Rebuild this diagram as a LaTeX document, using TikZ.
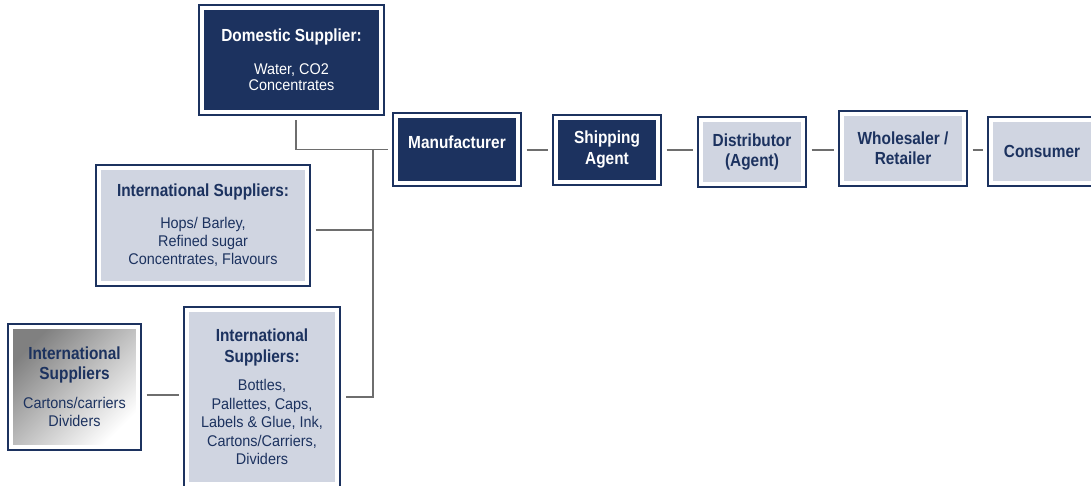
\documentclass[tikz,border=0pt]{standalone}
\usepackage{fontspec}
\newfontfamily\hfam{Liberation Sans}[FakeStretch=0.88]
\newfontfamily\bfam{Liberation Sans}[FakeStretch=0.93]
\definecolor{navy}{HTML}{1C325F}
\definecolor{pale}{HTML}{D0D5E1}
\definecolor{linegray}{HTML}{6E6E6E}
\newcommand{\hd}{\hfam\bfseries\fontsize{17.5}{18}\selectfont}
\newcommand{\bd}{\bfam\fontsize{15.5}{18}\selectfont}
\tikzset{
  boxframe/.style={rectangle, draw=white, line width=4pt,
    preaction={draw=navy, line width=8pt},
    inner sep=0pt, outer sep=8.5pt, align=center, font=\bd},
  darkbox/.style={boxframe, fill=navy, text=white},
  lightbox/.style={boxframe, fill=pale, text=navy},
  shadebox/.style={boxframe, top color=black!50, middle color=black!12, bottom color=white, shading angle=45, text=navy},
  link/.style={draw=linegray, line width=1.2pt}
}
\begin{document}
\begin{tikzpicture}[x=1pt,y=-1pt]
\useasboundingbox (0,0) rectangle (1091,486);
\node[darkbox, minimum width=179pt, minimum height=104pt] (dom) at (291.5,60)
  {{\hd Domestic Supplier:}\\[15pt]Water, CO2\\[-2pt]Concentrates};
\node[darkbox, minimum width=122pt, minimum height=67pt] (man) at (457,149.5) {\hd Manufacturer\\[-4pt]};
\node[darkbox, minimum width=102pt, minimum height=64pt] (ship) at (607,150) {\hd Shipping\\[3pt]\hd Agent};
\node[lightbox, minimum width=102pt, minimum height=64pt] (dist) at (752,152) {\hd Distributor\\[2pt]\hd (Agent)};
\node[lightbox, minimum width=122pt, minimum height=69pt] (whole) at (903,148.5) {\hd Wholesaler /\\[2pt]\hd Retailer};
\node[lightbox, minimum width=102pt, minimum height=63pt] (cons) at (1042,151.5) {\hd Consumer};
\node[lightbox, minimum width=208pt, minimum height=115pt] (int1) at (203,225.5)
  {{\hd International Suppliers:}\\[14pt]Hops/ Barley,\\Refined sugar\\Concentrates, Flavours};
\node[lightbox, minimum width=150pt, minimum height=174pt] (int2) at (262,397)
  {\hd International\\[3pt]\hd Suppliers:\\[10pt]Bottles,\\[0.5pt]Pallettes, Caps,\\[0.5pt]Labels \& Glue, Ink,\\[0.5pt]Cartons/Carriers,\\[0.5pt]Dividers};
\node[shadebox, minimum width=127pt, minimum height=120pt] (left) at (74.5,387)
  {\hd International\\[2pt]\hd Suppliers\\[11pt]Cartons/carriers\\Dividers};
\coordinate (bus) at (373,150);
\draw[link] ([xshift=4.5pt]dom.south) |- (man.west);
\draw[link] (bus) |- (int2.east);
\draw[link] ([yshift=-4.5pt]int1.east) -| (bus);
\draw[link] ([yshift=-8pt]left.east) -- ([yshift=2pt]int2.west);
\draw[link] (man.east |- ship.east) -- (ship.west);
\draw[link] (ship.east) -- (dist.west |- ship.east);
\draw[link] (dist.east |- ship.east) -- (whole.west |- ship.east);
\draw[link] (whole.east |- ship.east) -- (cons.west |- ship.east);
\end{tikzpicture}
\end{document}
